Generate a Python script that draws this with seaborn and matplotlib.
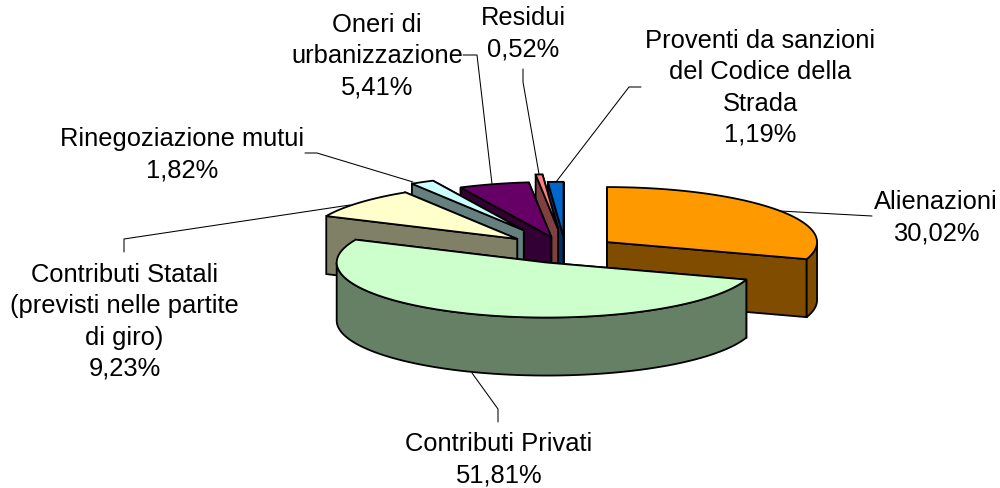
import numpy as np
import matplotlib
matplotlib.use("Agg")
import matplotlib.pyplot as plt
from matplotlib.patches import Polygon
import seaborn as sns

# ---- data -------------------------------------------------------------
categories = ["Alienazioni", "Contributi Privati",
              "Contributi Statali\n(previsti nelle partite\ndi giro)",
              "Rinegoziazione mutui", "Oneri di\nurbanizzazione", "Residui",
              "Proventi da sanzioni\ndel Codice della\nStrada"]
shares = [30.02, 51.81, 9.23, 1.82, 5.41, 0.52, 1.19]
share_labels = ["30,02%", "51,81%", "9,23%", "1,82%", "5,41%", "0,52%", "1,19%"]

# ---- style / layout ----------------------------------------------------
top_colors = ["#FF9900", "#CCFFCC", "#FFFFCC", "#CCFFFF", "#660066", "#FF8080", "#0066CC"]
explode = [0.245, 0.245, 0.305, 0.41, 0.245, 0.38, 0.24]
draw_order = [6, 5, 4, 3, 2, 0, 1]
label_xy = [(936, 218), (499, 460), (124.5, 322), (182, 155), (377, 56), (523, 34), (760, 88)]
leaders = [
    [(780, 211), (872, 216)],
    [(472, 373), (498, 409), (498, 422)],
    [(124, 252), (124, 239), (350, 205)],
    [(305, 153), (317, 153), (413, 182)],
    [(463, 55), (477, 55), (492, 184)],
    [(523, 69), (523, 82), (539, 174)],
    [(641, 87), (629, 87), (556, 182)],
]
CX, CY, RX, RY, DEPTH = 565.4, 250.0, 210.0, 55.0, 58.0
EDGE = 1.3

sns.set_theme(style="white")
plt.rcParams["font.family"] = ["Liberation Sans", "DejaVu Sans"]
palette = sns.color_palette(top_colors)

fig, ax = plt.subplots(figsize=(10, 4.88), dpi=100)
fig.subplots_adjust(0, 0, 1, 1)
ax.set_xlim(0, 1000)
ax.set_ylim(488, 0)
ax.axis("off")


def rim(cx, cy, a0, a1, n=80):
    t = np.radians(np.linspace(a0, a1, n))
    return np.column_stack([cx + RX * np.sin(t), cy - RY * np.cos(t)])


def face(pts, color):
    ax.add_patch(Polygon(pts, closed=True, facecolor=color, edgecolor="black",
                         linewidth=EDGE, joinstyle="miter"))


edges = np.concatenate([[0], np.cumsum(shares)]) / np.sum(shares) * 360
down = np.array([0, DEPTH])

for i in draw_order:
    a0, a1 = edges[i], edges[i + 1]
    mid = np.radians((a0 + a1) / 2)
    cx = CX + explode[i] * RX * np.sin(mid)
    cy = CY - explode[i] * RY * np.cos(mid)
    apex = np.array([cx, cy])
    top = palette[i]
    wall = tuple(c / 2 for c in top)

    # cut faces: the hidden one first, the one facing the viewer last
    pa = rim(cx, cy, a0, a0, 1)[0]
    pb = rim(cx, cy, a1, a1, 1)[0]
    cuts = [pb, pa] if a0 > 180 else [pa, pb]
    for p in cuts:
        face([apex, p, p + down, apex + down], wall)

    # front-facing part of the curved wall
    f0, f1 = max(a0, 90), min(a1, 270)
    if f1 > f0:
        arc = rim(cx, cy, f0, f1)
        face(np.vstack([arc, (arc + down)[::-1]]), wall)

    # top surface
    face(np.vstack([[apex], rim(cx, cy, a0, a1)]), top)

for pts in leaders:
    xs, ys = zip(*pts)
    ax.plot(xs, ys, color="black", lw=0.75, zorder=5)

for cat, lab, (x, y) in zip(categories, share_labels, label_xy):
    ax.text(x, y, f"{cat}\n{lab}", ha="center", va="center", fontsize=18.4,
            color="black", linespacing=1.38, zorder=6)

fig.savefig("out.png", dpi=100)
